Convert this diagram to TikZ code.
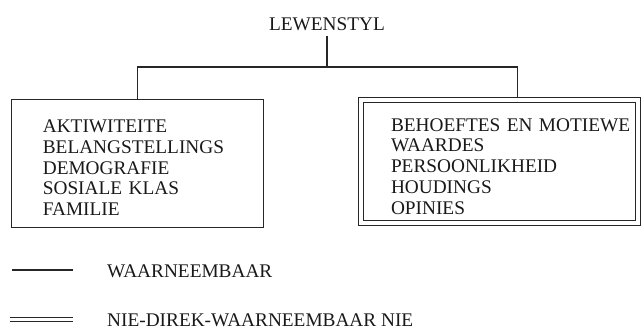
\documentclass[tikz,border=0pt]{standalone}
\usepackage{fontspec}
\setmainfont{Liberation Serif}
\usepackage{tikz}

\begin{document}
\begin{tikzpicture}[
  x=1pt, y=1pt,
  every node/.style={font=\fontsize{19.3}{20.75}\selectfont, text=black!90},
  wire/.style={line width=1.1pt, draw=black!85},
  block/.style={wire, rectangle, align=left, execute at begin node={\rule{0pt}{22pt}}},
  hiddenblock/.style={block, double, double distance=4pt, outer sep=2.5pt},
  key/.style={anchor=west, inner sep=0pt}
]
\useasboundingbox (0,0) rectangle (642,329);

\node[inner sep=5pt] (lewenstyl) at (327,305) {LEWENSTYL};
\node[block, text width=190pt, inner xsep=31pt, minimum height=128pt] (seen) at (137.85,165.85)
  {AKTIWITEITE\\BELANGSTELLINGS\\DEMOGRAFIE\\SOSIALE KLAS\\FAMILIE};
\node[hiddenblock, text width=217pt, inner xsep=30pt, minimum height=123pt] (unseen) at (499.5,167.3)
  {\mbox{BEHOEFTES EN MOTIEWE}\\WAARDES\\PERSOONLIKHEID\\HOUDINGS\\OPINIES};
\coordinate (split) at (327,262);

\draw[wire] (lewenstyl) -- (split);
\draw[wire] (seen.north) |- (split) -| ([xshift=18pt]unseen.north);

\node[key] (seenkey) at (107,58) {WAARNEEMBAAR};
\node[key] (unseenkey) at (107,9) {NIE-DIREK-WAARNEEMBAAR NIE};
\draw[wire] (12,59) -- (73,59);
\draw[wire, double, double distance=3.6pt] (10,9.5) -- (73,9.5);
\end{tikzpicture}
\end{document}
